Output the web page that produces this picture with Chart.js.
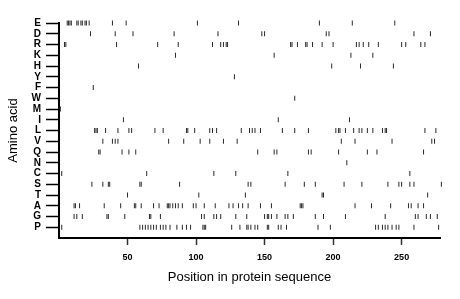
<!DOCTYPE html>
<html>
<head>
<meta charset="utf-8">
<script src="https://cdn.jsdelivr.net/npm/chart.js@4.4.1/dist/chart.umd.min.js"></script>
<style>
  html, body { margin: 0; padding: 0; background: #fff; }
</style>
</head>
<body>
<canvas id="chart" width="460" height="299"></canvas>
<script>
// rows, top to bottom
const aminoAcids = ["E", "D", "R", "K", "H", "Y", "F", "W", "M", "I", "L", "V", "Q", "N", "C", "S", "T", "A", "G", "P"];

// residue positions for each amino acid
const posE = [6, 7, 8, 9, 13, 14, 16, 17, 19, 20, 22, 39, 49, 101, 131, 190, 214, 245];
const posD = [23, 41, 54, 84, 116, 148, 150, 195, 197, 259, 271];
const posR = [4, 5, 42, 72, 87, 112, 118, 120, 122, 123, 169, 170, 174, 180, 181, 185, 192, 200, 217, 219, 222, 226, 233, 250, 253, 264, 267];
const posK = [85, 157, 213, 229];
const posH = [58, 199, 220, 244];
const posY = [128];
const posF = [25];
const posW = [172];
const posM = [1];
const posI = [47, 160, 212];
const posL = [26, 27, 28, 34, 43, 51, 53, 70, 76, 93, 94, 99, 110, 112, 115, 133, 139, 141, 143, 147, 163, 172, 182, 202, 204, 205, 209, 215, 219, 221, 225, 229, 236, 238, 239, 267, 275];
const posV = [32, 39, 41, 43, 80, 91, 103, 110, 120, 130, 206, 216, 243, 272, 274];
const posQ = [29, 30, 46, 51, 56, 145, 157, 159, 182, 184, 204, 225, 232, 266];
const posN = [210];
const posC = [2, 64, 113, 129, 167, 256];
const posS = [24, 32, 36, 37, 59, 60, 88, 138, 140, 165, 179, 187, 208, 221, 240, 248, 250, 256, 259, 279];
const posT = [50, 102, 136, 192, 193, 269];
const posA = [11, 12, 15, 33, 45, 55, 56, 60, 69, 73, 79, 80, 81, 83, 85, 87, 90, 98, 100, 106, 114, 124, 127, 131, 134, 138, 147, 155, 176, 177, 178, 216, 228, 242, 255, 257, 262, 266];
const posG = [11, 13, 17, 35, 36, 48, 66, 67, 74, 104, 106, 113, 115, 118, 129, 137, 150, 152, 153, 155, 159, 165, 167, 171, 187, 193, 209, 238, 260, 262, 268, 271, 276];
const posP = [2, 59, 61, 63, 65, 67, 69, 71, 74, 76, 78, 81, 86, 90, 93, 96, 105, 106, 107, 126, 132, 137, 138, 140, 143, 145, 152, 153, 160, 162, 166, 189, 198, 231, 233, 236, 238, 240, 243, 246, 248, 259, 277];

const positions = [posE, posD, posR, posK, posH, posY, posF, posW, posM, posI, posL, posV, posQ, posN, posC, posS, posT, posA, posG, posP];

const xTicks = [50, 100, 150, 200, 250];
const seqLength = 278;

const n = aminoAcids.length;

const datasets = aminoAcids.map((aa, i) => ({
  label: aa,
  data: positions[i].map(p => ({ x: p, y: n - 1 - i })),
  pointStyle: "line",
  rotation: 90,
  radius: 2.5,
  hoverRadius: 2.5,
  borderColor: "#2a2a2a",
  borderWidth: 1,
  clip: false
}));

new Chart(document.getElementById("chart"), {
  type: "scatter",
  data: { datasets },
  options: {
    responsive: false,
    animation: false,
    devicePixelRatio: 1,
    layout: { padding: { top: 23, right: 20, left: 0, bottom: 0 } },
    plugins: { legend: { display: false }, tooltip: { enabled: false } },
    scales: {
      x: {
        type: "linear",
        min: 0,
        max: seqLength,
        afterBuildTicks: s => { s.ticks = xTicks.map(v => ({ value: v })); },
        afterFit: s => { s.height = 61; },
        grid: { drawOnChartArea: false, drawTicks: true, tickLength: 7, tickColor: "#333", tickWidth: 1.5 },
        border: { color: "#000", width: 2 },
        ticks: { color: "#000", font: { family: "Liberation Sans", size: 9, weight: "bold" }, padding: 7, maxRotation: 0, autoSkip: false },
        title: { display: true, text: "Position in protein sequence", color: "#000", font: { family: "Liberation Sans", size: 13 }, padding: { top: 0, bottom: 14 } }
      },
      y: {
        type: "linear",
        min: -1,
        max: n - 1,
        afterBuildTicks: s => { s.ticks = aminoAcids.map((a, i) => ({ value: n - 1 - i })); },
        afterFit: s => { s.width = 59; },
        grid: { drawOnChartArea: false, drawTicks: true, tickLength: 13, tickColor: "#000", tickWidth: 1.5 },
        border: { color: "#000", width: 2 },
        ticks: {
          color: "#000",
          font: { family: "Liberation Sans", size: 10, weight: "bold" },
          padding: 5,
          autoSkip: false,
          callback: v => aminoAcids[n - 1 - v]
        },
        title: { display: true, text: "Amino acid", color: "#000", font: { family: "Liberation Sans", size: 13 }, padding: { top: 6, bottom: 0 } }
      }
    }
  }
});
</script>
</body>
</html>
